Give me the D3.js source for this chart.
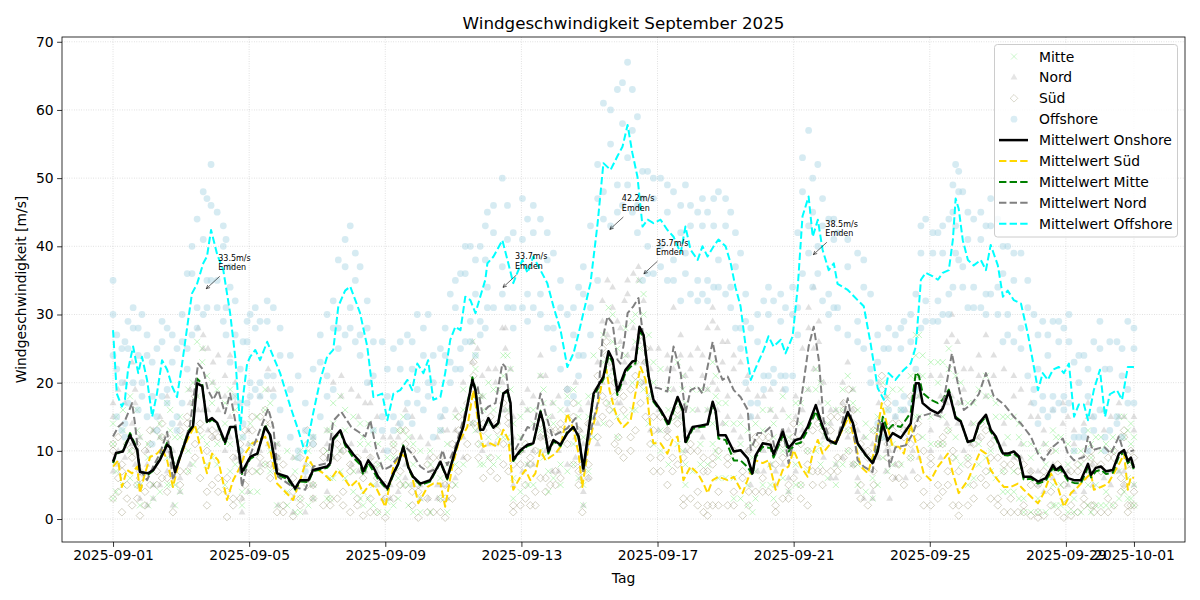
<!DOCTYPE html>
<html>
<head>
<meta charset="utf-8">
<title>Windgeschwindigkeit September 2025</title>
<script src="https://cdn.jsdelivr.net/npm/d3@7"></script>
<style>
  body { margin: 0; background: #fff; }
  svg { font-family: "DejaVu Sans", sans-serif; }
</style>
</head>
<body>
<svg id="chart" width="1200" height="600"></svg>
<script>
// values; time = days since 2025-09-01 00:00, speeds in m/s

// mean of all onshore stations
var onshoreMean = [
  [0,8.4],[0.09,9.7],[0.29,9.9],[0.5,12.3],[0.71,10.1],[0.79,6.9],[1.03,6.7],[1.18,7.2],[1.38,8.7],[1.59,10.9],
  [1.68,10.5],[1.82,6.9],[1.97,9.1],[2.21,12.6],[2.35,13.6],[2.47,19.9],[2.62,19.5],[2.76,14.3],[2.91,14.8],[3.06,14.1],
  [3.29,11.3],[3.44,13.5],[3.59,13.5],[3.79,6.9],[4.03,9.1],[4.24,9.6],[4.47,13.5],[4.62,12.3],[4.82,6.7],[5.12,6.2],
  [5.35,4.5],[5.5,5.7],[5.74,5.7],[5.88,7.2],[6.29,7.7],[6.38,8.2],[6.47,11.8],[6.68,13.0],[6.82,11.1],[7.06,9.5],
  [7.26,8.4],[7.35,7.0],[7.5,8.6],[7.65,7.6],[7.79,6.2],[8.06,4.5],[8.24,6.7],[8.38,8.1],[8.53,10.6],[8.68,7.6],
  [8.82,6.2],[9.03,5.2],[9.32,5.7],[9.62,8.4],[9.82,6.0],[10.06,10.1],[10.29,13.5],[10.56,20.4],[10.65,18.9],[10.79,13.1],
  [10.88,13.1],[11.03,14.8],[11.18,13.4],[11.32,14.1],[11.47,18.4],[11.59,18.9],[11.68,17.0],[11.76,8.7],[11.97,10.1],[12.18,10.9],
  [12.35,11.1],[12.56,15.7],[12.65,14.1],[12.79,9.9],[12.94,11.6],[13.15,10.9],[13.35,12.6],[13.53,13.5],[13.68,12.1],[13.82,7.4],
  [13.97,12.8],[14.12,18.4],[14.41,20.9],[14.56,24.6],[14.68,23.4],[14.82,18.7],[15.06,21.9],[15.26,23.1],[15.35,23.2],[15.47,28.2],
  [15.59,27.0],[15.74,20.9],[15.88,17.5],[16.09,16.0],[16.32,14.0],[16.59,17.9],[16.74,16.1],[16.82,11.3],[17.03,13.5],[17.26,13.7],
  [17.47,13.9],[17.62,17.2],[17.71,15.8],[17.79,12.3],[18.0,12.3],[18.24,9.9],[18.44,10.1],[18.65,8.9],[18.79,6.7],[18.88,9.3],
  [19.09,11.1],[19.32,10.9],[19.41,9.5],[19.68,12.8],[19.85,10.4],[20.06,11.6],[20.21,11.8],[20.41,13.5],[20.65,16.7],[20.79,14.5],
  [21.0,11.6],[21.24,11.1],[21.44,13.5],[21.59,15.7],[21.74,14.1],[21.88,11.1],[22.12,9.4],[22.32,8.2],[22.47,9.9],[22.62,14.0],
  [22.76,11.5],[22.91,12.6],[23.15,11.9],[23.44,14.0],[23.59,19.9],[23.68,19.9],[23.79,17.0],[24.03,16.0],[24.24,15.5],[24.38,16.2],
  [24.56,18.7],[24.76,14.8],[24.91,14.3],[25.12,11.3],[25.29,11.6],[25.44,14.0],[25.65,15.3],[25.79,13.1],[25.94,12.1],[26.15,9.6],
  [26.29,9.6],[26.47,9.9],[26.62,9.2],[26.76,6.2],[26.97,6.2],[27.18,5.5],[27.41,6.0],[27.62,7.9],[27.71,7.2],[27.85,7.7],
  [28.06,6.0],[28.24,5.7],[28.44,5.7],[28.65,8.1],[28.74,6.5],[28.88,7.5],[29.03,7.7],[29.18,7.0],[29.38,7.2],[29.56,9.6],
  [29.71,10.1],[29.82,8.5],[29.91,9.0],[30,7.5]
];

// Mitte: [day, mean, station high, station low, station mid]
var mitte = [
  [0,8.2,14,3,11],[0.09,9.5,15,4,7],[0.29,10.0,16,5,13],[0.5,12.6,18,6,10],[0.71,10.3,16,5,13],[0.79,7.0,12,2,5],[1.03,6.5,11,2,9],[1.18,7.1,13,3,5],
  [1.38,8.9,14,4,12],[1.59,11.2,17,5,9],[1.68,10.6,16,5,13],[1.82,7.2,12,2,5],[1.97,9.3,15,4,12],[2.21,12.9,19,7,10],[2.35,13.8,20,8,17],[2.47,20.6,26,13,18],
  [2.62,19.8,25,12,23],[2.76,14.0,21,8,11],[2.91,14.6,20,9,17],[3.06,14.0,19,8,11],[3.29,11.0,17,5,14],[3.44,13.3,19,7,11],[3.59,13.6,18,8,16],[3.79,6.6,12,2,4],
  [4.03,8.8,14,4,11],[4.24,9.5,15,4,7],[4.47,13.8,19,8,16],[4.62,12.0,17,7,10],[4.82,6.5,11,2,9],[5.12,5.9,10,2,4],[5.35,4.3,9,1,7],[5.5,5.5,10,1,3],
  [5.74,5.4,10,2,8],[5.88,7.0,12,3,5],[6.29,7.5,13,3,10],[6.38,8.0,13,3,6],[6.47,11.6,17,6,14],[6.68,12.8,18,7,10],[6.82,10.8,16,6,13],[7.06,9.0,15,4,7],
  [7.26,8.0,14,3,11],[7.35,6.5,12,2,4],[7.5,8.2,14,3,11],[7.65,7.0,13,2,5],[7.79,5.8,11,1,8],[8.06,4.3,9,1,2.5],[8.24,6.5,11,2,9],[8.38,8.0,13,3,6],
  [8.53,10.8,15,5,13],[8.68,7.4,12,2,5],[8.82,6.0,11,1,8],[9.03,5.0,10,1,3],[9.32,5.5,10,1,8],[9.62,8.3,13,3,6],[9.82,5.8,11,1,8],[10.06,10.0,15,5,8],
  [10.29,13.6,19,8,16],[10.56,20.8,26,14,18],[10.65,19.0,24,13,22],[10.79,13.0,18,8,11],[10.88,13.2,18,8,16],[11.03,14.6,20,9,12],[11.18,13.3,19,8,16],[11.32,14.0,19,9,12],
  [11.47,18.5,24,12,21],[11.59,18.6,24,12,16],[11.68,16.8,22,11,19],[11.76,8.5,14,3,6],[11.97,9.9,15,4,12],[12.18,10.7,16,5,8],[12.35,11.0,16,5,14],[12.56,15.9,21,10,13],
  [12.65,14.0,19,9,17],[12.79,9.6,15,4,7],[12.94,11.4,17,6,14],[13.15,10.7,16,5,8],[13.35,12.8,18,7,15],[13.53,13.4,19,8,11],[13.68,12.0,17,6,15],[13.82,7.2,12,2,5],
  [13.97,12.6,18,7,15],[14.12,18.0,24,12,15],[14.41,20.5,27,14,23],[14.56,24.0,31,17,21],[14.68,23.0,30,16,26],[14.82,18.2,25,12,15],[15.06,21.5,28,15,24],[15.26,22.6,29,16,20],
  [15.35,22.8,30,16,26],[15.47,27.6,35,20,25],[15.59,26.6,33,19,30],[15.74,20.6,27,14,18],[15.88,17.2,23,11,20],[16.09,15.8,22,10,13],[16.32,13.6,19,8,16],[16.59,17.6,23,11,15],
  [16.74,15.8,21,10,19],[16.82,11.0,17,5,8],[17.03,13.2,19,7,16],[17.26,13.5,19,8,11],[17.47,13.6,19,8,16],[17.62,17.0,23,11,14],[17.71,15.5,21,10,18],[17.79,11.8,17,6,9],
  [18.0,11.6,17,6,14],[18.24,8.6,14,3,6],[18.44,8.6,14,3,11],[18.65,7.6,13,2,5],[18.79,6.5,11,1,9],[18.88,9.0,14,3,7],[19.09,10.6,16,5,13],[19.32,10.4,16,5,8],
  [19.41,9.0,14,3,12],[19.68,12.2,18,6,10],[19.85,9.9,15,4,12],[20.06,11.0,17,5,8],[20.21,11.2,17,5,14],[20.41,13.0,19,7,10],[20.65,15.8,22,10,19],[20.79,14.0,20,8,11],
  [21.0,11.5,17,6,14],[21.24,11.0,16,5,8],[21.44,13.5,19,8,16],[21.59,15.6,21,10,13],[21.74,14.0,19,8,17],[21.88,11.0,16,5,8],[22.12,9.3,14,4,12],[22.32,8.4,13,3,6],
  [22.47,10.4,15,5,13],[22.62,15.0,20,9,12],[22.76,13.0,18,7,16],[22.91,13.8,19,8,11],[23.15,13.5,19,8,16],[23.44,15.6,21,9,13],[23.59,21.5,27,15,24],[23.68,21.0,27,15,18],
  [23.79,18.5,24,12,21],[24.03,17.5,23,11,15],[24.24,17.0,23,11,20],[24.38,17.5,23,11,15],[24.56,19.0,25,13,22],[24.76,15.0,21,9,12],[24.91,14.4,20,8,17],[25.12,11.2,17,5,9],
  [25.29,11.5,17,6,14],[25.44,13.8,19,8,11],[25.65,15.0,21,9,18],[25.79,12.8,18,7,10],[25.94,11.8,17,6,15],[26.15,9.4,15,4,7],[26.29,9.3,15,4,12],[26.47,9.6,15,4,7],
  [26.62,9.0,14,3,12],[26.76,5.8,11,1,3],[26.97,5.9,11,1,9],[27.18,5.2,10,1,3],[27.41,5.6,11,1,8],[27.62,7.5,13,2,5],[27.71,6.9,12,2,10],[27.85,7.3,12,2,5],
  [28.06,5.6,11,1,8],[28.24,5.3,10,1,3],[28.44,5.2,10,1,8],[28.65,7.6,13,2,5],[28.74,6.1,11,1,9],[28.88,7.0,12,2,5],[29.03,7.2,12,2,10],[29.18,6.6,11,2,4],
  [29.38,6.8,12,2,10],[29.56,9.2,15,3,7],[29.71,9.8,15,4,12],[29.82,8.2,13,3,6],[29.91,8.6,14,3,11],[30,7.2,12,2,5]
];

// Nord: [day, mean, station high, station low, station mid]
var nord = [
  [0,12.1,17,7,15],[0.15,13.5,19,8,10],[0.35,14.4,20,9,17],[0.56,17.0,23,11,14],[0.65,13.8,19,8,17],[0.79,7.2,12,3,5],[1.0,5.7,10,2,8],[1.18,7.7,13,3,5],
  [1.38,9.6,15,5,12],[1.59,12.8,18,7,10],[1.76,5.7,10,2,8],[1.97,9.1,14,4,6],[2.26,13.8,19,8,17],[2.5,22.8,28,16,20],[2.65,21.9,27,16,25],[2.79,18.9,25,13,16],
  [2.94,17.5,23,12,20],[3.09,18.9,24,13,16],[3.29,15.5,21,10,18],[3.44,18.4,24,12,15],[3.59,14.4,20,9,17],[3.79,4.7,9,1,3],[3.97,8.6,13,4,11],[4.32,13.1,18,8,10],
  [4.56,16.2,22,11,19],[4.71,13.5,19,8,11],[4.85,6.2,11,2,9],[5.29,4.7,9,1,3],[5.65,4.3,8,1,6],[5.88,7.7,12,3,5],[6.29,8.2,13,4,11],[6.47,14.4,20,9,12],
  [6.71,15.7,21,10,18],[7.0,13.5,19,8,11],[7.21,12.8,18,7,15],[7.41,12.1,17,7,10],[7.56,14.5,20,9,17],[7.76,9.6,15,5,7],[7.94,7.2,12,3,10],[8.15,7.7,12,3,5],
  [8.38,9.1,14,4,12],[8.59,10.6,16,6,8],[8.79,9.6,15,5,12],[9.03,7.7,12,3,5],[9.26,6.9,11,3,9],[9.53,7.4,12,3,5],[9.68,10.1,15,5,13],[9.82,7.9,13,3,5],
  [10.06,10.6,16,6,13],[10.29,14.5,20,9,12],[10.56,19.9,26,14,23],[10.71,19.5,25,13,17],[10.85,15.5,21,10,18],[11.03,16.5,22,11,14],[11.24,17.0,22,11,20],[11.44,22.8,28,16,20],
  [11.53,22.3,28,16,25],[11.68,16.5,22,11,14],[11.76,9.6,15,5,12],[12.03,12.1,17,7,10],[12.18,13.5,19,8,16],[12.35,13.1,18,8,10],[12.56,18.4,24,12,21],[12.71,15.5,21,10,13],
  [12.91,12.1,17,7,15],[13.09,12.6,18,7,10],[13.35,13.3,19,8,16],[13.59,14.8,20,9,12],[13.74,10.6,16,6,13],[13.82,6.7,11,2,4],[13.97,11.6,17,6,14],[14.24,17.0,23,11,14],
  [14.38,26.3,32,20,29],[14.53,29.7,35,23,27],[14.68,28.7,34,22,31],[14.82,23.4,29,17,20],[14.91,22.8,28,17,26],[15.03,26.3,32,20,23],[15.12,30.2,35,24,33],[15.29,31.2,36,25,28],
  [15.44,32.4,37,26,35],[15.59,26.3,32,20,23],[15.79,19.4,25,13,22],[16.03,19.2,25,13,16],[16.29,18.7,24,13,22],[16.47,25.3,31,19,22],[16.68,21.4,27,15,24],[16.82,15.5,21,10,13],
  [16.97,18.9,24,13,22],[17.18,19.4,25,13,16],[17.32,18.4,24,12,21],[17.47,22.3,28,16,19],[17.62,26.0,31,20,29],[17.76,22.3,28,16,19],[17.91,20.4,26,14,23],[18.06,20.9,26,15,18],
  [18.24,18.9,24,13,22],[18.44,17.9,23,12,15],[18.65,16.0,21,10,19],[18.74,10.1,15,5,7],[18.94,12.6,18,7,15],[19.12,12.6,18,7,10],[19.32,13.5,19,8,16],[19.47,9.6,15,5,7],
  [19.68,13.5,19,8,16],[19.85,8.2,13,4,6],[20.06,12.8,18,7,15],[20.26,18.9,25,13,16],[20.44,25.3,31,19,28],[20.59,28.2,34,22,25],[20.74,23.3,29,17,26],[20.88,14.5,20,9,12],
  [21.09,11.1,16,6,14],[21.24,11.1,16,6,8],[21.44,14.5,20,9,17],[21.59,17.7,23,12,15],[21.74,13.5,19,8,16],[21.88,8.6,13,4,6],[22.06,7.7,12,3,10],[22.32,6.9,11,3,4],
  [22.5,14.5,20,9,17],[22.71,12.6,18,7,10],[22.82,7.7,12,3,10],[22.99,10.5,15,6,8],[23.29,10.8,16,6,13],[23.5,12.5,18,7,10],[23.68,15.0,21,9,18],[24.03,15.5,21,10,13],
  [24.32,15.0,21,9,18],[24.5,20.0,26,14,17],[24.65,24.3,30,18,27],[24.82,20.0,26,14,17],[25.0,16.0,22,10,19],[25.21,16.8,22,11,14],[25.44,18.3,24,12,21],[25.65,21.4,27,15,18],
  [25.88,18.0,24,12,21],[26.18,16.8,22,11,14],[26.47,15.0,21,9,18],[26.68,14.0,19,9,11],[26.97,12.1,17,7,15],[27.18,9.6,15,5,7],[27.35,8.6,13,4,11],[27.62,10.6,16,6,8],
  [27.91,11.8,17,7,14],[28.06,9.6,15,5,7],[28.24,8.6,13,4,11],[28.53,9.1,14,4,6],[28.65,12.1,17,7,15],[28.79,10.1,15,5,8],[29.12,10.6,16,6,13],[29.32,9.6,15,5,7],
  [29.56,12.1,17,7,15],[29.71,9.6,15,5,7],[30,10.1,15,5,13]
];

// Süd: [day, mean, station high, station low, station mid]
var sued = [
  [0,7.7,11,3,10],[0.15,8.6,12,4,6],[0.26,4.7,8,1,7],[0.41,7.2,11,3,5],[0.56,6.7,10,2,9],[0.71,7.7,11,3,5],[0.79,3.8,7,0.5,6],[0.94,6.7,10,2,4],
  [1.09,9.1,13,5,11],[1.29,9.6,13,5,7],[1.44,10.4,14,6,12],[1.59,8.6,12,4,6],[1.76,4.7,8,1,7],[1.97,9.1,13,5,7],[2.18,11.6,15,7,14],[2.41,13.8,18,9,11],
  [2.56,10.6,14,6,13],[2.76,6.7,10,2,4],[2.91,9.6,13,5,12],[3.09,8.6,12,4,6],[3.35,2.8,6,0.3,4],[3.53,5.7,9,2,3],[3.74,7.7,11,3,10],[3.88,9.6,13,5,7],
  [4.09,11.1,15,7,13],[4.32,11.6,15,7,9],[4.47,12.1,16,8,14],[4.62,10.1,14,6,8],[4.82,5.2,9,1,7],[5.0,4.3,8,1,2],[5.29,2.8,6,0.4,4],[5.5,5.7,9,2,3],
  [5.71,9.1,13,5,11],[5.88,7.7,11,3,5],[6.18,6.7,10,2,9],[6.38,5.7,9,2,3],[6.59,7.2,11,3,9],[6.76,6.2,10,2,4],[6.97,4.7,8,1,7],[7.18,5.7,9,2,3],
  [7.35,3.8,7,0.5,6],[7.56,5.2,9,1,3],[7.76,4.3,8,1,6],[8.0,1.8,5,0.2,3],[8.24,7.7,11,3,10],[8.44,9.6,13,5,7],[8.59,9.1,13,5,11],[8.79,6.2,10,2,4],
  [8.97,2.3,5,0.2,4],[9.24,4.7,8,1,3],[9.41,5.2,9,1,7],[9.62,5.2,9,1,3],[9.76,1.8,5,0.2,3],[9.97,7.7,11,3,5],[10.15,11.1,15,7,13],[10.41,13.5,17,9,11],
  [10.59,18.9,23,14,21],[10.74,13.8,18,9,11],[10.88,10.6,14,6,13],[11.09,11.1,15,7,9],[11.29,10.6,14,6,13],[11.47,13.1,17,8,11],[11.62,11.6,15,7,14],[11.76,4.3,8,1,2],
  [11.97,6.2,10,2,8],[12.12,7.2,11,3,5],[12.26,5.7,9,2,8],[12.41,6.7,10,2,4],[12.56,10.1,14,6,12],[12.71,8.6,12,4,6],[12.85,9.1,13,5,11],[13.0,9.6,13,5,7],
  [13.15,10.6,14,6,13],[13.35,15.5,19,11,13],[13.53,13.1,17,8,15],[13.68,9.6,13,5,7],[13.79,4.7,8,1,7],[13.97,10.6,14,6,8],[14.24,16.5,21,12,19],[14.38,20.4,25,15,18],
  [14.5,21.9,26,17,24],[14.59,18.9,23,14,16],[14.74,16.0,20,11,18],[14.85,14.5,19,10,12],[15.0,13.5,18,9,16],[15.21,14.5,19,10,12],[15.35,18.4,23,13,21],[15.5,22.3,27,17,20],
  [15.65,20.4,25,15,23],[15.79,13.5,18,9,11],[15.88,11.1,15,7,13],[16.09,11.1,15,7,9],[16.29,9.6,13,5,12],[16.44,11.6,15,7,9],[16.59,12.1,16,8,14],[16.76,5.7,9,2,3],
  [16.97,7.7,11,3,10],[17.18,6.7,10,2,4],[17.35,5.2,9,1,7],[17.47,3.8,7,0.5,2],[17.62,5.7,9,2,8],[17.79,6.2,10,2,4],[18.06,5.7,9,2,8],[18.24,6.2,10,2,4],
  [18.5,3.8,7,0.5,6],[18.68,6.2,10,2,4],[18.88,8.6,12,4,11],[19.09,8.2,12,4,6],[19.26,8.6,12,4,11],[19.47,4.3,8,1,2],[19.68,7.2,11,3,9],[19.85,7.7,11,3,5],
  [20.0,10.1,14,6,12],[20.21,7.7,11,3,5],[20.41,6.2,10,2,8],[20.56,9.6,13,5,7],[20.71,11.6,15,7,14],[20.85,9.6,13,5,7],[21.09,11.1,15,7,13],[21.29,11.6,15,7,9],
  [21.47,13.5,17,9,16],[21.62,15.0,19,10,13],[21.76,12.1,16,8,14],[21.97,7.7,11,3,5],[22.18,6.7,10,2,9],[22.35,9.6,13,5,7],[22.59,17.0,21,12,19],[22.76,13.5,17,9,11],
  [22.91,10.6,14,6,13],[23.09,10.6,14,6,8],[23.24,9.6,13,5,12],[23.44,13.8,18,9,11],[23.65,10.1,14,6,12],[23.82,6.7,10,2,4],[24.03,5.7,9,2,8],[24.24,7.7,11,3,5],
  [24.38,8.6,12,4,11],[24.53,9.6,13,5,7],[24.68,6.7,10,2,9],[24.85,3.8,7,0.5,2],[25.12,5.7,9,2,8],[25.29,7.7,11,3,5],[25.5,10.1,14,6,12],[25.65,9.6,13,5,7],
  [25.79,7.2,11,3,9],[26.0,5.7,9,2,3],[26.18,4.7,8,1,7],[26.38,4.7,8,1,3],[26.59,5.2,9,1,7],[26.76,4.3,8,1,2],[26.97,3.3,7,0.5,5],[27.18,2.3,5,0.2,1],
  [27.35,3.8,7,0.5,6],[27.56,6.7,10,2,4],[27.76,4.7,8,1,7],[27.94,1.8,5,0.2,3],[28.15,3.8,7,0.5,2],[28.35,4.7,8,1,7],[28.53,5.7,9,2,3],[28.74,6.7,10,2,9],
  [28.82,4.3,8,1,2],[29.03,4.7,8,1,7],[29.24,5.2,9,1,3],[29.41,6.7,10,2,9],[29.62,8.6,12,4,6],[29.71,9.6,13,5,12],[29.82,4.3,8,1,2],[29.91,6.2,10,2,8],
  [30,6.0,9,2,4]
];

// Offshore: [day, mean, station high, station mid, station low]
var offshore = [
  [0,27.7,35,30,24],[0.11,18.4,27,22,15],[0.26,16.5,25,20,13],[0.35,17.5,26,14,12],[0.44,21.9,29,25,17],[0.59,25.3,31,28,20],[0.74,21.4,28,24,16],[0.85,23.8,30,20,18],
  [1.0,20.4,27,24,15],[1.15,15.0,23,18,11],[1.29,18.4,25,15,13],[1.44,23.3,29,26,18],[1.59,21.9,28,19,17],[1.74,19.4,27,23,14],[1.88,17.9,25,15,13],[2.03,22.8,30,26,17],
  [2.18,28.2,36,25,22],[2.32,33.1,40,36,27],[2.47,34.5,44,31,28],[2.65,37.5,48,41,30],[2.76,38.5,47,35,31],[2.88,42.4,52,46,35],[3.06,38.8,45,35,31],[3.24,36.5,43,40,29],
  [3.32,34.0,41,31,27],[3.44,30.2,37,34,23],[3.59,23.8,32,27,18],[3.74,13.1,22,17,10],[3.82,17.9,26,14,12],[3.94,22.8,29,26,17],[4.03,23.8,30,20,18],[4.18,24.8,31,28,19],
  [4.32,23.3,29,20,18],[4.53,26.0,32,29,21],[4.71,23.8,31,21,18],[4.91,21.4,28,24,16],[5.21,16.5,24,19,12],[5.44,13.1,21,10,9],[5.65,9.6,17,13,7],[5.88,15.5,22,12,11],
  [6.09,20.4,27,23,15],[6.29,23.8,30,21,18],[6.47,24.8,32,28,19],[6.62,31.2,38,28,25],[6.82,33.5,41,37,27],[6.97,34.1,43,31,28],[7.12,32.1,39,35,26],[7.26,30.2,37,27,24],
  [7.47,25.3,32,28,20],[7.65,17.9,26,21,13],[7.91,18.4,26,15,13],[8.06,14.5,22,18,10],[8.24,18.4,25,15,13],[8.44,18.9,26,22,14],[8.65,20.4,27,17,15],[8.79,18.9,26,22,14],
  [8.94,22.8,30,19,17],[9.12,21.4,28,24,16],[9.26,23.3,30,20,18],[9.41,17.5,24,20,12],[9.62,17.9,25,15,13],[9.76,21.4,28,24,16],[9.91,26.3,33,23,20],[10.06,28.2,35,31,22],
  [10.21,27.7,36,25,22],[10.35,32.6,40,36,26],[10.5,32.1,40,29,26],[10.65,30.2,38,33,24],[10.79,32.6,40,29,27],[10.94,35.1,43,38,28],[11.0,37.5,45,34,31],[11.18,38.5,46,42,31],
  [11.44,40.9,50,37,33],[11.59,38.0,46,41,31],[11.76,34.6,42,31,28],[12.03,38.0,47,41,31],[12.18,36.1,44,33,29],[12.35,38.5,46,42,31],[12.56,36.5,44,33,30],[12.76,34.6,42,38,28],
  [12.94,31.2,39,28,25],[13.15,27.7,35,31,22],[13.35,22.3,30,19,17],[13.53,24.3,31,27,18],[13.68,27.2,34,24,21],[13.82,30.2,37,33,24],[14.03,34.6,43,31,27],[14.24,43.4,52,47,35],
  [14.41,52.2,61,48,44],[14.62,51.2,60,55,43],[14.82,53.2,63,49,45],[14.97,54.6,64,58,46],[15.12,57.8,67,53,49],[15.26,53.7,63,57,45],[15.41,50.2,59,46,42],[15.56,42.9,51,47,35],
  [15.71,43.9,51,40,36],[15.88,43.4,50,47,36],[16.09,43.9,50,40,37],[16.29,42.4,49,45,35],[16.47,41.4,48,38,35],[16.68,39.0,46,42,32],[16.82,42.9,49,39,36],[16.97,39.5,46,43,33],
  [17.18,38.0,45,35,32],[17.32,40.0,47,43,33],[17.47,38.5,45,35,32],[17.65,40.0,47,43,34],[17.79,41.0,48,38,34],[18.0,40.0,47,43,33],[18.15,37.5,45,34,31],[18.29,34.0,42,37,28],
  [18.44,31.2,39,28,25],[18.59,25.3,33,29,20],[18.74,20.4,28,17,15],[18.94,22.8,30,26,17],[19.12,24.8,32,21,19],[19.26,26.8,34,30,21],[19.41,25.3,32,22,20],[19.62,26.3,33,29,21],
  [19.76,24.3,31,21,19],[19.97,26.8,34,30,21],[20.12,34.0,42,31,27],[20.26,44.4,53,48,36],[20.44,47.3,57,43,39],[20.56,41.4,50,45,34],[20.71,43.9,52,40,36],[20.85,39.5,47,43,32],
  [21.03,36.5,44,33,30],[21.18,37.5,44,41,31],[21.29,34.5,42,31,28],[21.59,33.6,41,37,27],[21.88,32.1,39,29,26],[22.06,31.2,38,34,25],[22.26,25.8,33,22,20],[22.47,19.2,27,23,14],
  [22.65,17.5,25,14,12],[22.79,21.4,28,25,16],[22.99,20.4,27,17,15],[23.15,21.4,28,25,16],[23.24,21.9,29,18,16],[23.44,22.8,30,26,17],[23.59,25.3,33,22,19],[23.74,35.1,43,39,28],
  [23.88,36.1,44,32,29],[24.09,35.6,42,39,29],[24.24,35.1,42,32,29],[24.38,36.1,43,39,30],[24.56,36.5,44,33,30],[24.68,41.0,49,45,34],[24.76,47.0,52,43,39],[24.85,45.5,51,48,38],
  [24.97,40.9,48,37,34],[25.12,38.0,45,41,31],[25.29,37.2,44,34,31],[25.5,38.0,45,41,31],[25.65,36.5,43,33,30],[25.79,40.2,47,43,33],[26.0,37.2,44,34,30],[26.15,32.6,40,36,26],
  [26.29,33.5,40,30,27],[26.47,32.1,39,35,26],[26.68,31.6,39,28,25],[26.88,27.2,35,31,21],[27.06,22.3,30,19,17],[27.18,18.9,27,22,14],[27.32,21.4,29,18,16],[27.47,20.4,27,24,15],
  [27.62,21.9,29,18,16],[27.79,22.3,29,26,17],[27.94,21.4,28,18,16],[28.09,22.8,30,26,17],[28.24,15.0,23,12,10],[28.38,16.8,24,20,12],[28.53,16.8,24,13,12],[28.65,14.5,22,18,10],
  [28.82,18.9,26,15,13],[29.0,21.9,29,25,16],[29.15,15.0,22,12,10],[29.29,18.3,26,22,13],[29.5,18.9,26,15,14],[29.65,17.5,25,21,12],[29.82,22.3,29,19,17],[30,22.3,28,25,17]
];

// labelled maxima
var annoDays = [2.68, 11.40, 14.54, 15.54, 20.52];
var annoValues = [33.5, 33.7, 42.2, 35.7, 38.5];
var annoStation = ["Emden", "Emden", "Emden", "Emden", "Emden"];

var xTickLabels = ["2025-09-01", "2025-09-05", "2025-09-09", "2025-09-13", "2025-09-17",
                   "2025-09-21", "2025-09-25", "2025-09-29", "2025-10-01"];
var yTicks = [0, 10, 20, 30, 40, 50, 60, 70];

// ---------------------------------------------------------------

var svg = d3.select("#chart");
var plotL = 62, plotR = 1185, plotT = 37, plotB = 542;
var dashPattern = "7.4,3.2";

var start = Date.UTC(2025, 8, 1);
function toDate(day) { return new Date(start + day * 864e5); }

var x = d3.scaleUtc()
    .domain([toDate(-1.5), toDate(31.5)])
    .range([plotL, plotR]);
var y = d3.scaleLinear()
    .domain([-3.37, 70.7])
    .range([plotB, plotT]);

var parseDay = d3.utcParse("%Y-%m-%d");
var xTicks = xTickLabels.map(parseDay);

svg.append("defs").append("clipPath").attr("id", "plotClip")
  .append("rect").attr("x", plotL).attr("y", plotT)
    .attr("width", plotR - plotL).attr("height", plotB - plotT);

// grid
var grid = svg.append("g").attr("stroke", "#b0b0b0").attr("stroke-opacity", 0.6)
    .attr("stroke-width", 0.8).attr("stroke-dasharray", "0.8,1.6");
grid.selectAll("line.v").data(xTicks).enter().append("line")
    .attr("x1", function(d) { return x(d); }).attr("x2", function(d) { return x(d); })
    .attr("y1", plotT).attr("y2", plotB);
grid.selectAll("line.h").data(yTicks).enter().append("line")
    .attr("y1", function(d) { return y(d); }).attr("y2", function(d) { return y(d); })
    .attr("x1", plotL).attr("x2", plotR);

var plot = svg.append("g").attr("clip-path", "url(#plotClip)");

// station scatter: every column after the mean is one station
function stationPoints(rows) {
  var pts = [];
  rows.forEach(function(r) {
    for (var i = 2; i < r.length; i++) pts.push([r[0], r[i]]);
  });
  return pts;
}

var markX = "M-3,-3L3,3M-3,3L3,-3";
var markTri = "M0,-3.8L3.4,2.2L-3.4,2.2Z";
var markDia = "M0,-3.8L3.8,0L0,3.8L-3.8,0Z";

function scatter(pts, path, fill, stroke, opacity, sw) {
  plot.append("g").selectAll("path").data(pts).enter().append("path")
      .attr("d", path)
      .attr("transform", function(d) { return "translate(" + x(toDate(d[0])) + "," + y(d[1]) + ")"; })
      .attr("fill", fill)
      .attr("stroke", stroke)
      .attr("stroke-width", sw)
      .attr("opacity", opacity);
}

scatter(stationPoints(mitte), markX, "none", "#90ee90", 0.55, 1);
scatter(stationPoints(nord), markTri, "#b5b5b5", "none", 0.42, 0);
scatter(stationPoints(sued), markDia, "none", "#8c8660", 0.48, 0.8);

plot.append("g").selectAll("circle").data(stationPoints(offshore)).enter().append("circle")
    .attr("cx", function(d) { return x(toDate(d[0])); })
    .attr("cy", function(d) { return y(d[1]); })
    .attr("r", 3.4)
    .attr("fill", "#add8e6")
    .attr("opacity", 0.5);

// mean lines
function meanLine(rows, color, width, dash) {
  var line = d3.line()
      .x(function(d) { return x(toDate(d[0])); })
      .y(function(d) { return y(d[1]); });
  plot.append("path").datum(rows)
      .attr("d", line)
      .attr("fill", "none")
      .attr("stroke", color)
      .attr("stroke-width", width)
      .attr("stroke-linejoin", "round")
      .attr("stroke-dasharray", dash);
}

meanLine(sued, "#ffd700", 2, dashPattern);
meanLine(mitte, "#008000", 2, dashPattern);
meanLine(nord, "#808080", 2, dashPattern);
meanLine(offshore, "#00ffff", 2, dashPattern);
meanLine(onshoreMean, "#000000", 2.5, null);

// annotations
var anno = svg.append("g").attr("font-size", "8px").attr("fill", "#000");
annoDays.forEach(function(d, i) {
  var px = x(toDate(d)), py = y(annoValues[i]);
  var x0 = px + 15.5, y0 = py - 14.3, x1 = px + 2, y1 = py - 1.9;
  anno.append("line").attr("x1", x0).attr("y1", y0).attr("x2", x1).attr("y2", y1)
      .attr("stroke", "#000").attr("stroke-width", 0.6);
  var ang = Math.atan2(y1 - y0, x1 - x0);
  var hl = 4, hw = 0.45;
  anno.append("path")
      .attr("d", "M" + (x1 - hl * Math.cos(ang - hw)) + "," + (y1 - hl * Math.sin(ang - hw)) +
                 "L" + x1 + "," + y1 +
                 "L" + (x1 - hl * Math.cos(ang + hw)) + "," + (y1 - hl * Math.sin(ang + hw)))
      .attr("fill", "none").attr("stroke", "#000").attr("stroke-width", 0.6);
  anno.append("text").attr("x", px + 14).attr("y", py - 30)
      .text(annoValues[i].toFixed(1) + "m/s");
  anno.append("text").attr("x", px + 14).attr("y", py - 20.5)
      .text(annoStation[i]);
});

// axes
var xAxis = svg.append("g").attr("transform", "translate(0," + plotB + ")")
    .call(d3.axisBottom(x).tickValues(xTicks).tickFormat(d3.utcFormat("%Y-%m-%d"))
          .tickSize(4.9).tickPadding(3.5));
var yAxis = svg.append("g").attr("transform", "translate(" + plotL + ",0)")
    .call(d3.axisLeft(y).tickValues(yTicks).tickFormat(d3.format("d"))
          .tickSize(4.9).tickPadding(3.5));
[xAxis, yAxis].forEach(function(a) {
  a.select(".domain").remove();
  a.selectAll("text").attr("font-family", "DejaVu Sans").attr("font-size", "13.9px").attr("fill", "#000");
  a.selectAll("line").attr("stroke", "#000").attr("stroke-width", 0.8);
});

svg.append("rect").attr("x", plotL).attr("y", plotT)
    .attr("width", plotR - plotL).attr("height", plotB - plotT)
    .attr("fill", "none").attr("stroke", "#000").attr("stroke-width", 0.8);

svg.append("text").attr("x", (plotL + plotR) / 2).attr("y", 29)
    .attr("text-anchor", "middle").attr("font-size", "16.7px")
    .text("Windgeschwindigkeit September 2025");
svg.append("text").attr("x", (plotL + plotR) / 2).attr("y", 583)
    .attr("text-anchor", "middle").attr("font-size", "13.9px")
    .text("Tag");
svg.append("text").attr("transform", "translate(26," + ((plotT + plotB) / 2) + ") rotate(-90)")
    .attr("text-anchor", "middle").attr("font-size", "13.9px")
    .text("Windgeschwindigkeit [m/s]");

// legend
var legendItems = [
  { label: "Mitte", kind: "x" },
  { label: "Nord", kind: "tri" },
  { label: "Süd", kind: "dia" },
  { label: "Offshore", kind: "dot" },
  { label: "Mittelwert Onshore", kind: "line", color: "#000000", width: 2.5 },
  { label: "Mittelwert Süd", kind: "dash", color: "#ffd700" },
  { label: "Mittelwert Mitte", kind: "dash", color: "#008000" },
  { label: "Mittelwert Nord", kind: "dash", color: "#808080" },
  { label: "Mittelwert Offshore", kind: "dash", color: "#00ffff" }
];

var legend = svg.append("g");
legend.append("rect").attr("x", 994.5).attr("y", 44.5).attr("width", 183).attr("height", 192.5)
    .attr("rx", 3).attr("fill", "#fff").attr("fill-opacity", 0.8)
    .attr("stroke", "#cccccc").attr("stroke-width", 1);

legendItems.forEach(function(it, i) {
  var cy = 56.5 + i * 20.9;
  var g = legend.append("g");
  if (it.kind === "x") {
    g.append("path").attr("d", markX).attr("transform", "translate(1014," + cy + ")")
      .attr("stroke", "#90ee90").attr("fill", "none").attr("opacity", 0.45);
  } else if (it.kind === "tri") {
    g.append("path").attr("d", markTri).attr("transform", "translate(1014," + cy + ")")
      .attr("fill", "#b5b5b5").attr("opacity", 0.35);
  } else if (it.kind === "dia") {
    g.append("path").attr("d", markDia).attr("transform", "translate(1014," + cy + ")")
      .attr("fill", "none").attr("stroke", "#8c8660").attr("stroke-width", 0.8).attr("opacity", 0.4);
  } else if (it.kind === "dot") {
    g.append("circle").attr("cx", 1014).attr("cy", cy).attr("r", 3.4)
      .attr("fill", "#add8e6").attr("opacity", 0.45);
  } else {
    g.append("line").attr("x1", 999).attr("x2", 1028).attr("y1", cy).attr("y2", cy)
      .attr("stroke", it.color).attr("stroke-width", it.width || 2)
      .attr("stroke-dasharray", it.kind === "dash" ? dashPattern : null);
  }
  g.append("text").attr("x", 1039).attr("y", cy + 5).attr("font-size", "13.9px")
    .text(it.label);
});
</script>
</body>
</html>
